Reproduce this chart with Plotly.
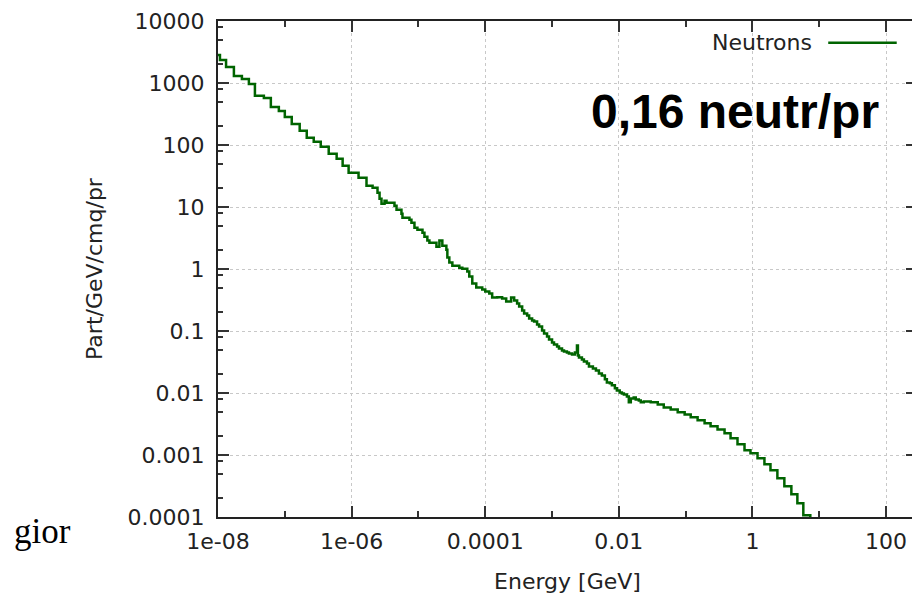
import plotly.graph_objects as go

# Neutron spectrum (bin lower edges in GeV, last entry = end of last bin)
energy_gev = [1.00e-8, 1.07e-8, 1.32e-8, 1.73e-8, 2.28e-8, 2.90e-8, 3.57e-8, 4.86e-8, 6.18e-8, 8.14e-8,
              1.00e-7, 1.27e-7, 1.67e-7, 2.13e-7, 2.71e-7, 3.45e-7, 4.54e-7, 5.97e-7, 7.34e-7, 9.02e-7,
              1.27e-6, 1.67e-6, 2.06e-6, 2.44e-6, 2.62e-6, 2.80e-6, 3.11e-6, 3.33e-6, 4.38e-6, 4.70e-6,
              5.57e-6, 5.77e-6, 7.34e-6, 7.86e-6, 8.72e-6, 9.66e-6, 1.15e-5, 1.23e-5, 1.36e-5, 1.46e-5,
              1.86e-5, 2.06e-5, 2.28e-5, 2.62e-5, 2.71e-5, 2.90e-5, 3.22e-5, 4.09e-5, 4.54e-5, 5.39e-5,
              5.77e-5, 6.40e-5, 7.34e-5, 9.02e-5, 1.00e-4, 1.15e-4, 1.27e-4, 1.51e-4, 1.79e-4, 2.06e-4,
              2.44e-4, 2.71e-4, 3.00e-4, 3.22e-4, 3.57e-4, 3.82e-4, 4.24e-4, 4.54e-4, 5.03e-4, 5.39e-4,
              5.97e-4, 6.40e-4, 7.09e-4, 7.60e-4, 8.42e-4, 9.02e-4, 1.00e-3, 1.07e-3, 1.19e-3, 1.27e-3,
              1.41e-3, 1.51e-3, 1.67e-3, 1.79e-3, 1.99e-3, 2.20e-3, 2.36e-3, 2.44e-3, 2.53e-3, 2.80e-3,
              3.00e-3, 3.33e-3, 3.57e-3, 4.09e-3, 4.54e-3, 5.03e-3, 5.57e-3, 6.18e-3, 6.62e-3, 7.34e-3,
              7.86e-3, 8.72e-3, 9.34e-3, 1.03e-2, 1.11e-2, 1.19e-2, 1.32e-2, 1.41e-2, 1.51e-2, 1.67e-2,
              1.79e-2, 1.99e-2, 2.13e-2, 2.36e-2, 3.00e-2, 3.82e-2, 4.70e-2, 5.97e-2, 7.60e-2, 9.66e-2,
              0.119, 0.151, 0.192, 0.236, 0.300, 0.382, 0.470, 0.597, 0.760, 0.934,
              1.19, 1.51, 1.86, 2.36, 3.00, 3.82, 4.70, 5.77, 7.34]

flux = [2840, 2360, 1820, 1300, 1160, 967, 620, 575, 412, 355,
        284, 219, 169, 131, 113, 93.5, 72.2, 59.9, 46.3, 35.7,
        29.6, 22.0, 20.5, 17.0, 13.6, 11.3, 12.6, 11.7, 10.5, 9.05,
        7.80, 6.72, 6.24, 5.59, 4.64, 4.31, 3.86, 3.32, 2.87, 2.66,
        2.29, 2.87, 2.38, 2.05, 1.53, 1.27, 1.13, 1.05, 1.01, 0.908,
        0.754, 0.582, 0.502, 0.466, 0.433, 0.402, 0.346, 0.350, 0.334, 0.299,
        0.346, 0.310, 0.277, 0.248, 0.214, 0.191, 0.178, 0.159, 0.148, 0.142,
        0.127, 0.118, 0.102, 0.0911, 0.0815, 0.0730, 0.0653, 0.0606, 0.0563, 0.0523,
        0.0485, 0.0468, 0.0450, 0.0434, 0.0418, 0.0450, 0.0584, 0.0403, 0.0374, 0.0348,
        0.0323, 0.0300, 0.0268, 0.0249, 0.0231, 0.0207, 0.0192, 0.0166, 0.0148, 0.0143,
        0.0133, 0.0119, 0.0110, 0.0102, 0.00985, 0.00949, 0.00882, 0.00706, 0.00818, 0.00849,
        0.00788, 0.00760, 0.00706, 0.0073, 0.00706, 0.00655, 0.00586, 0.00544, 0.00487, 0.00452,
        0.00405, 0.00362, 0.00324, 0.00290, 0.00259, 0.00224, 0.00186, 0.00149, 0.00119, 0.00107,
        0.000885, 0.000708, 0.000567, 0.000421, 0.000313, 0.000233, 0.000167, 0.000107, 0.00005]

x_tickvals = [1e-8, 1e-6, 1e-4, 1e-2, 1, 100]
x_ticktext = ["1e-08", "1e-06", "0.0001", "0.01", "1", "100"]
x_minor = [1e-7, 1e-5, 1e-3, 1e-1, 10]
y_tickvals = [1e-4, 1e-3, 1e-2, 1e-1, 1, 10, 100, 1000, 10000]
y_ticktext = ["0.0001", "0.001", "0.01", "0.1", "1", "10", "100", "1000", "10000"]
y_minor = [m * 10.0 ** k for k in range(-4, 4) for m in (2, 5, 8)]

FONT = "DejaVu Sans"
TXT = "#222222"
GREEN = "#006400"
FS = 22

fig = go.Figure()
fig.add_trace(go.Scatter(x=energy_gev, y=flux, mode="lines", line_shape="hv",
                         line=dict(color=GREEN, width=2.5), name="Neutrons",
                         showlegend=False, cliponaxis=True))

axis_common = dict(
    type="log", showline=True, linecolor="#222222", linewidth=2,
    mirror="allticks", ticks="inside", ticklen=11, tickwidth=1.5, tickcolor="#333333",
    showgrid=True, gridcolor="#c8c8c8", griddash="dot", gridwidth=1,
    zeroline=False, tickfont=dict(family=FONT, size=FS, color=TXT),
    ticklabeloverflow="allow",
)

fig.update_xaxes(**axis_common, range=[-8, 2.4627],
                 tickvals=x_tickvals, ticktext=x_ticktext,
                 minor=dict(tickvals=x_minor, ticks="inside", ticklen=6, tickcolor="#333333",
                            tickwidth=1.5, showgrid=False),
                 title=dict(text="Energy [GeV]", font=dict(family=FONT, size=FS, color=TXT), standoff=20),
                 ticklabelstandoff=4)
fig.update_yaxes(**axis_common, range=[-4, 4],
                 tickvals=y_tickvals, ticktext=y_ticktext,
                 minor=dict(tickvals=y_minor, ticks="inside", ticklen=5, tickcolor="#333333",
                            tickwidth=1.5, showgrid=False),
                 title=dict(text="Part/GeV/cmq/pr", font=dict(family=FONT, size=FS, color=TXT), standoff=19),
                 ticklabelstandoff=7)

# gnuplot-style key: label left, sample line right
fig.add_annotation(x=0.853, y=0.956, xref="paper", yref="paper", text="Neutrons",
                   showarrow=False, xanchor="right", yanchor="middle",
                   font=dict(family=FONT, size=FS, color=TXT))
fig.add_shape(type="line", xref="paper", yref="paper", x0=0.873, x1=0.971, y0=0.956, y1=0.956,
              line=dict(color=GREEN, width=2.5))

fig.add_annotation(x=0.739, y=0.818, xref="paper", yref="paper", text="<b>0,16 neutr/pr</b>",
                   showarrow=False, xanchor="center", yanchor="middle",
                   font=dict(family="Liberation Sans", size=48, color="#000000"))

fig.add_annotation(x=-0.2943, y=-0.030, xref="paper", yref="paper", text="gior",
                   showarrow=False, xanchor="left", yanchor="middle",
                   font=dict(family="Liberation Serif", size=35, color="#000000"))

# page body adds an 8px offset; shrink canvas so the plot area lands where the reference has it
fig.update_layout(width=912, height=587, margin=dict(l=210, r=1, t=12, b=78),
                  paper_bgcolor="white", plot_bgcolor="white", showlegend=False)

fig.write_html("out.html")
